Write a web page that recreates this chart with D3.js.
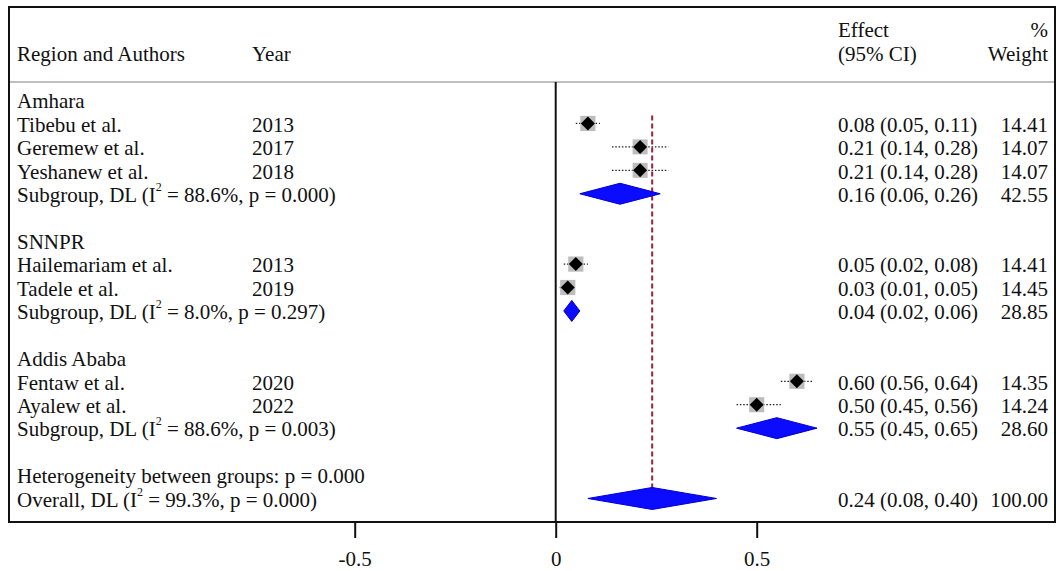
<!DOCTYPE html>
<html>
<head>
<meta charset="utf-8">
<script src="https://cdn.jsdelivr.net/npm/d3@7"></script>
<style>
  body { margin: 0; background: #fff; }
  svg text { font-family: "Liberation Serif", "Times New Roman", serif; fill: #111; }
</style>
</head>
<body>
<script>
// forest plot data
var regions = ["Amhara", "SNNPR", "Addis Ababa"];
var studyAuthors = ["Tibebu et al.", "Geremew et al.", "Yeshanew et al.", "Hailemariam et al.", "Tadele et al.", "Fentaw et al.", "Ayalew et al."];
var studyYears = [2013, 2017, 2018, 2013, 2019, 2020, 2022];
var studyRegion = [0, 0, 0, 1, 1, 2, 2];
var studyEffect = [0.08, 0.21, 0.21, 0.05, 0.03, 0.60, 0.50];
var studyLow = [0.05, 0.14, 0.14, 0.02, 0.01, 0.56, 0.45];
var studyHigh = [0.11, 0.28, 0.28, 0.08, 0.05, 0.64, 0.56];
var studyWeight = [14.41, 14.07, 14.07, 14.41, 14.45, 14.35, 14.24];

var subgroupEffect = [0.16, 0.04, 0.55];
var subgroupLow = [0.06, 0.02, 0.45];
var subgroupHigh = [0.26, 0.06, 0.65];
var subgroupWeight = [42.55, 28.85, 28.60];
var subgroupI2 = ["88.6%", "8.0%", "88.6%"];
var subgroupP = ["0.000", "0.297", "0.003"];

var betweenP = "0.000";
var overallEffect = 0.24, overallLow = 0.08, overallHigh = 0.40, overallWeight = 100.00;
var overallI2 = "99.3%", overallP = "0.000";

var xTicks = [-0.5, 0, 0.5];

// layout
var W = 1056, H = 571;
var fs = 21;
var rowY0 = 100, rowStep = 23.44;   // centre of first row, row spacing
var boxL = 9, boxT = 7, boxR = 1055, boxB = 522, headLine = 82;
var colLabel = 17, colYear = 252, colEffect = 838, colWeight = 1048;

var f2 = d3.format(".2f");
var x = d3.scaleLinear().domain([0, 0.5]).range([555.7, 756.7]);
function rowY(i) { return rowY0 + i * rowStep; }

// build the list of rows from the arrays
var rows = [];
var r = 0;
regions.forEach(function(reg, g) {
  rows.push({type: "head", row: r++, label: reg});
  studyAuthors.forEach(function(a, k) {
    if (studyRegion[k] !== g) return;
    rows.push({type: "study", row: r++, label: a, year: studyYears[k], es: studyEffect[k], lo: studyLow[k], hi: studyHigh[k], w: studyWeight[k]});
  });
  rows.push({type: "sub", row: r++, label: "Subgroup, DL (I", i2: subgroupI2[g], p: subgroupP[g], es: subgroupEffect[g], lo: subgroupLow[g], hi: subgroupHigh[g], w: subgroupWeight[g]});
  r++; // blank row
});
rows.push({type: "het", row: r++, label: "Heterogeneity between groups: p = " + betweenP});
rows.push({type: "sub", row: r++, label: "Overall, DL (I", i2: overallI2, p: overallP, es: overallEffect, lo: overallLow, hi: overallHigh, w: overallWeight, overall: true});
var overallRow = r - 1;

var svg = d3.select("body").append("svg").attr("width", W).attr("height", H);

function txt(px, py, s, anchor) {
  return svg.append("text")
    .attr("x", px).attr("y", py)
    .attr("font-size", fs)
    .attr("text-anchor", anchor || "start")
    .text(s);
}

// frame
svg.append("rect").attr("x", boxL).attr("y", boxT).attr("width", boxR - boxL).attr("height", boxB - boxT)
  .attr("fill", "none").attr("stroke", "#111").attr("stroke-width", 2);
svg.append("line").attr("x1", boxL + 1).attr("x2", boxR - 1).attr("y1", headLine).attr("y2", headLine)
  .attr("stroke", "#aaa").attr("stroke-width", 1.5);

// header
txt(colLabel, 61, "Region and Authors");
txt(colYear, 61, "Year");
txt(colEffect, 37, "Effect");
txt(colEffect, 61, "(95% CI)");
txt(colWeight, 37, "%", "end");
txt(colWeight, 61, "Weight", "end");

// zero line
svg.append("line").attr("x1", x(0)).attr("x2", x(0)).attr("y1", headLine).attr("y2", boxB)
  .attr("stroke", "#111").attr("stroke-width", 2);

// overall effect dashed line
svg.append("line").attr("x1", x(overallEffect)).attr("x2", x(overallEffect))
  .attr("y1", rowY(1) - 8).attr("y2", rowY(overallRow) - 11)
  .attr("stroke", "#9b2335").attr("stroke-width", 2).attr("stroke-dasharray", "5,3");

// row text
rows.forEach(function(d) {
  var by = rowY(d.row) + 8.3;
  if (d.type === "head" || d.type === "het") { txt(colLabel, by, d.label); return; }
  if (d.type === "study") {
    txt(colLabel, by, d.label);
    txt(colYear, by, d.year);
  } else {
    var t = txt(colLabel, by, d.label);
    t.append("tspan").attr("font-size", 12).attr("dy", -11).text("2");
    t.append("tspan").attr("dy", 11).text(" = " + d.i2 + ", p = " + d.p + ")");
  }
  txt(colEffect, by, f2(d.es) + " (" + f2(d.lo) + ", " + f2(d.hi) + ")");
  txt(colWeight, by, f2(d.w), "end");
});

// study markers
var studies = rows.filter(function(d) { return d.type === "study"; });
var mk = svg.append("g");
mk.selectAll("line.ci").data(studies).enter().append("line")
  .attr("x1", function(d) { return x(d.lo); }).attr("x2", function(d) { return x(d.hi); })
  .attr("y1", function(d) { return rowY(d.row); }).attr("y2", function(d) { return rowY(d.row); })
  .attr("stroke", "#222").attr("stroke-width", 1.3).attr("stroke-dasharray", "1.5,1.8");
mk.selectAll("rect").data(studies).enter().append("rect")
  .attr("x", function(d) { return x(d.es) - Math.sqrt(d.w) * 2; })
  .attr("y", function(d) { return rowY(d.row) - Math.sqrt(d.w) * 2; })
  .attr("width", function(d) { return Math.sqrt(d.w) * 4; })
  .attr("height", function(d) { return Math.sqrt(d.w) * 4; })
  .attr("fill", "#bdbdbd");
mk.selectAll("path").data(studies).enter().append("path")
  .attr("d", function(d) {
    var cx = x(d.es), cy = rowY(d.row);
    return "M" + (cx - 7) + "," + cy + "L" + cx + "," + (cy - 7) + "L" + (cx + 7) + "," + cy + "L" + cx + "," + (cy + 7) + "Z";
  })
  .attr("fill", "#000");

// pooled diamonds
var pooled = rows.filter(function(d) { return d.type === "sub"; });
svg.append("g").selectAll("path").data(pooled).enter().append("path")
  .attr("d", function(d) {
    var cy = rowY(d.row), h = d.overall ? 11 : 10.5;
    return "M" + x(d.lo) + "," + cy + "L" + x(d.es) + "," + (cy - h) + "L" + x(d.hi) + "," + cy + "L" + x(d.es) + "," + (cy + h) + "Z";
  })
  .attr("fill", "#0b0bff").attr("stroke", "#0000d0").attr("stroke-width", 1);

// x axis (the frame's bottom edge is the axis line)
var xFull = d3.scaleLinear().domain([-0.5, 0.5]).range([x(-0.5), x(0.5)]);
var ax = svg.append("g").attr("transform", "translate(0," + boxB + ")")
  .call(d3.axisBottom(xFull).tickValues(xTicks).tickSize(16).tickSizeOuter(0)
    .tickFormat(function(v) { return v === 0 ? "0" : String(v); }));
ax.select(".domain").remove();
ax.selectAll(".tick line").attr("stroke", "#111").attr("stroke-width", 2);
ax.selectAll(".tick text")
  .attr("dy", null).attr("y", 44)
  .attr("font-size", fs).attr("font-family", "Liberation Serif, serif").attr("fill", "#111");
</script>
</body>
</html>
